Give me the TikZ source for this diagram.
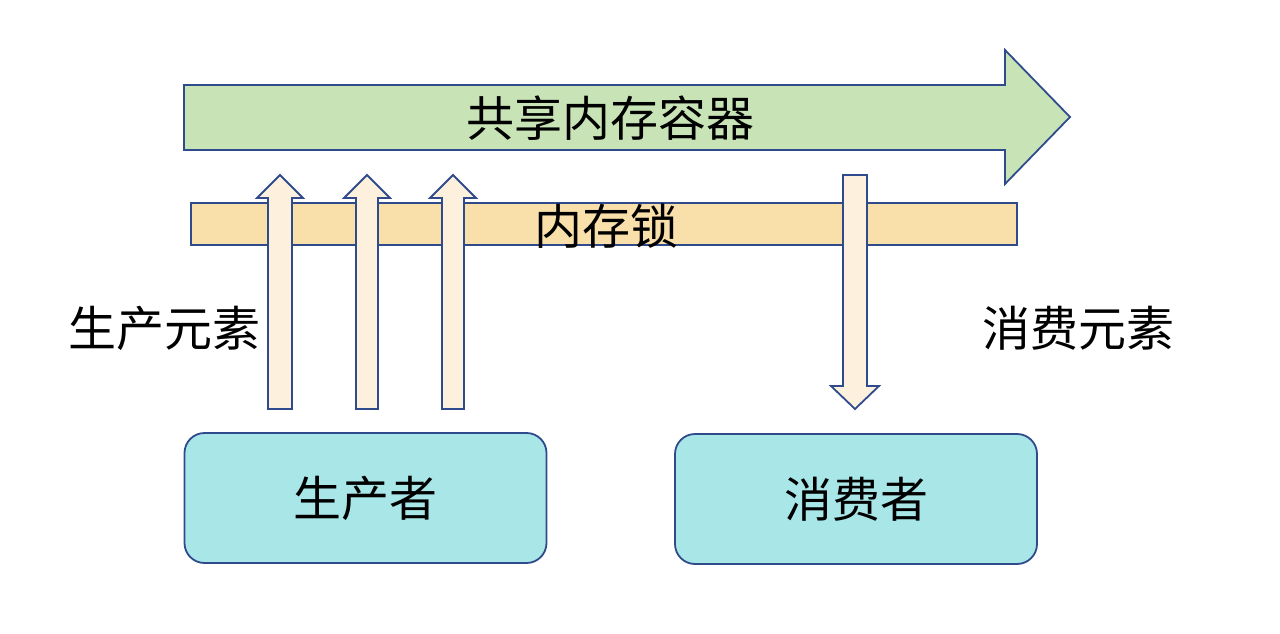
\documentclass[tikz,border=0pt]{standalone}
\usepackage{fontspec}
\setmainfont{Noto Sans CJK SC}
\usetikzlibrary{arrows.meta}
\definecolor{lineblue}{RGB}{47,75,140}
\definecolor{sharegreen}{RGB}{200,228,182}
\definecolor{lockyellow}{RGB}{249,224,170}
\definecolor{cream}{RGB}{253,241,222}
\definecolor{boxcyan}{RGB}{168,230,232}
\newcommand{\arrA}{280}
\newcommand{\arrB}{367}
\newcommand{\arrC}{453}
\newcommand{\arrD}{855}
\tikzset{
  txt/.style = {font=\fontsize{48}{52}\selectfont, inner sep=0pt},
  outl/.style = {draw=lineblue, line width=1.8pt, line join=miter},
  box/.style = {outl, fill=boxcyan, rounded corners=20pt, minimum width=362pt, minimum height=130pt, txt}
}

\begin{document}
\begin{tikzpicture}[x=1pt, y=-1pt]

		\useasboundingbox (0, 0) rectangle (1280, 634);
		% shared container
		\draw [outl, fill=sharegreen] (184, 85)--(1005, 85)--(1005, 50)--(1070, 117)--(1005, 184)--(1005, 150)--(184, 150)--cycle;
		\node [txt] (share) at (610, 118) {共享内存容器};
		% lock
		\draw [outl, fill=lockyellow] (191, 203) rectangle (1017, 245);
		\node [txt] (lock) at (606, 226) {内存锁};
		% produce
		\draw [outl, fill=cream] (\arrA-12, 409)--(\arrA-12, 198)--(\arrA-23, 198)--(\arrA, 175)--(\arrA+23, 198)--(\arrA+12, 198)--(\arrA+12, 409)--cycle;
		\draw [outl, fill=cream] (\arrB-11, 409)--(\arrB-11, 198)--(\arrB-23, 198)--(\arrB, 175)--(\arrB+23, 198)--(\arrB+11, 198)--(\arrB+11, 409)--cycle;
		\draw [outl, fill=cream] (\arrC-11, 409)--(\arrC-11, 198)--(\arrC-23, 198)--(\arrC, 175)--(\arrC+23, 198)--(\arrC+11, 198)--(\arrC+11, 409)--cycle;
		% consume
		\draw [outl, fill=cream] (\arrD-12, 175)--(\arrD+12, 175)--(\arrD+12, 386)--(\arrD+24, 386)--(\arrD, 409)--(\arrD-24, 386)--(\arrD-12, 386)--cycle;
		%
		\node [txt] (prodlabel) at (164, 328) {生产元素};
		\node [txt] (conslabel) at (1078, 328) {消费元素};
		\node [box] (producer) at (365.5, 498) {生产者};
		\node [box] (consumer) at (856, 499) {消费者};
	\end{tikzpicture}
\end{document}
